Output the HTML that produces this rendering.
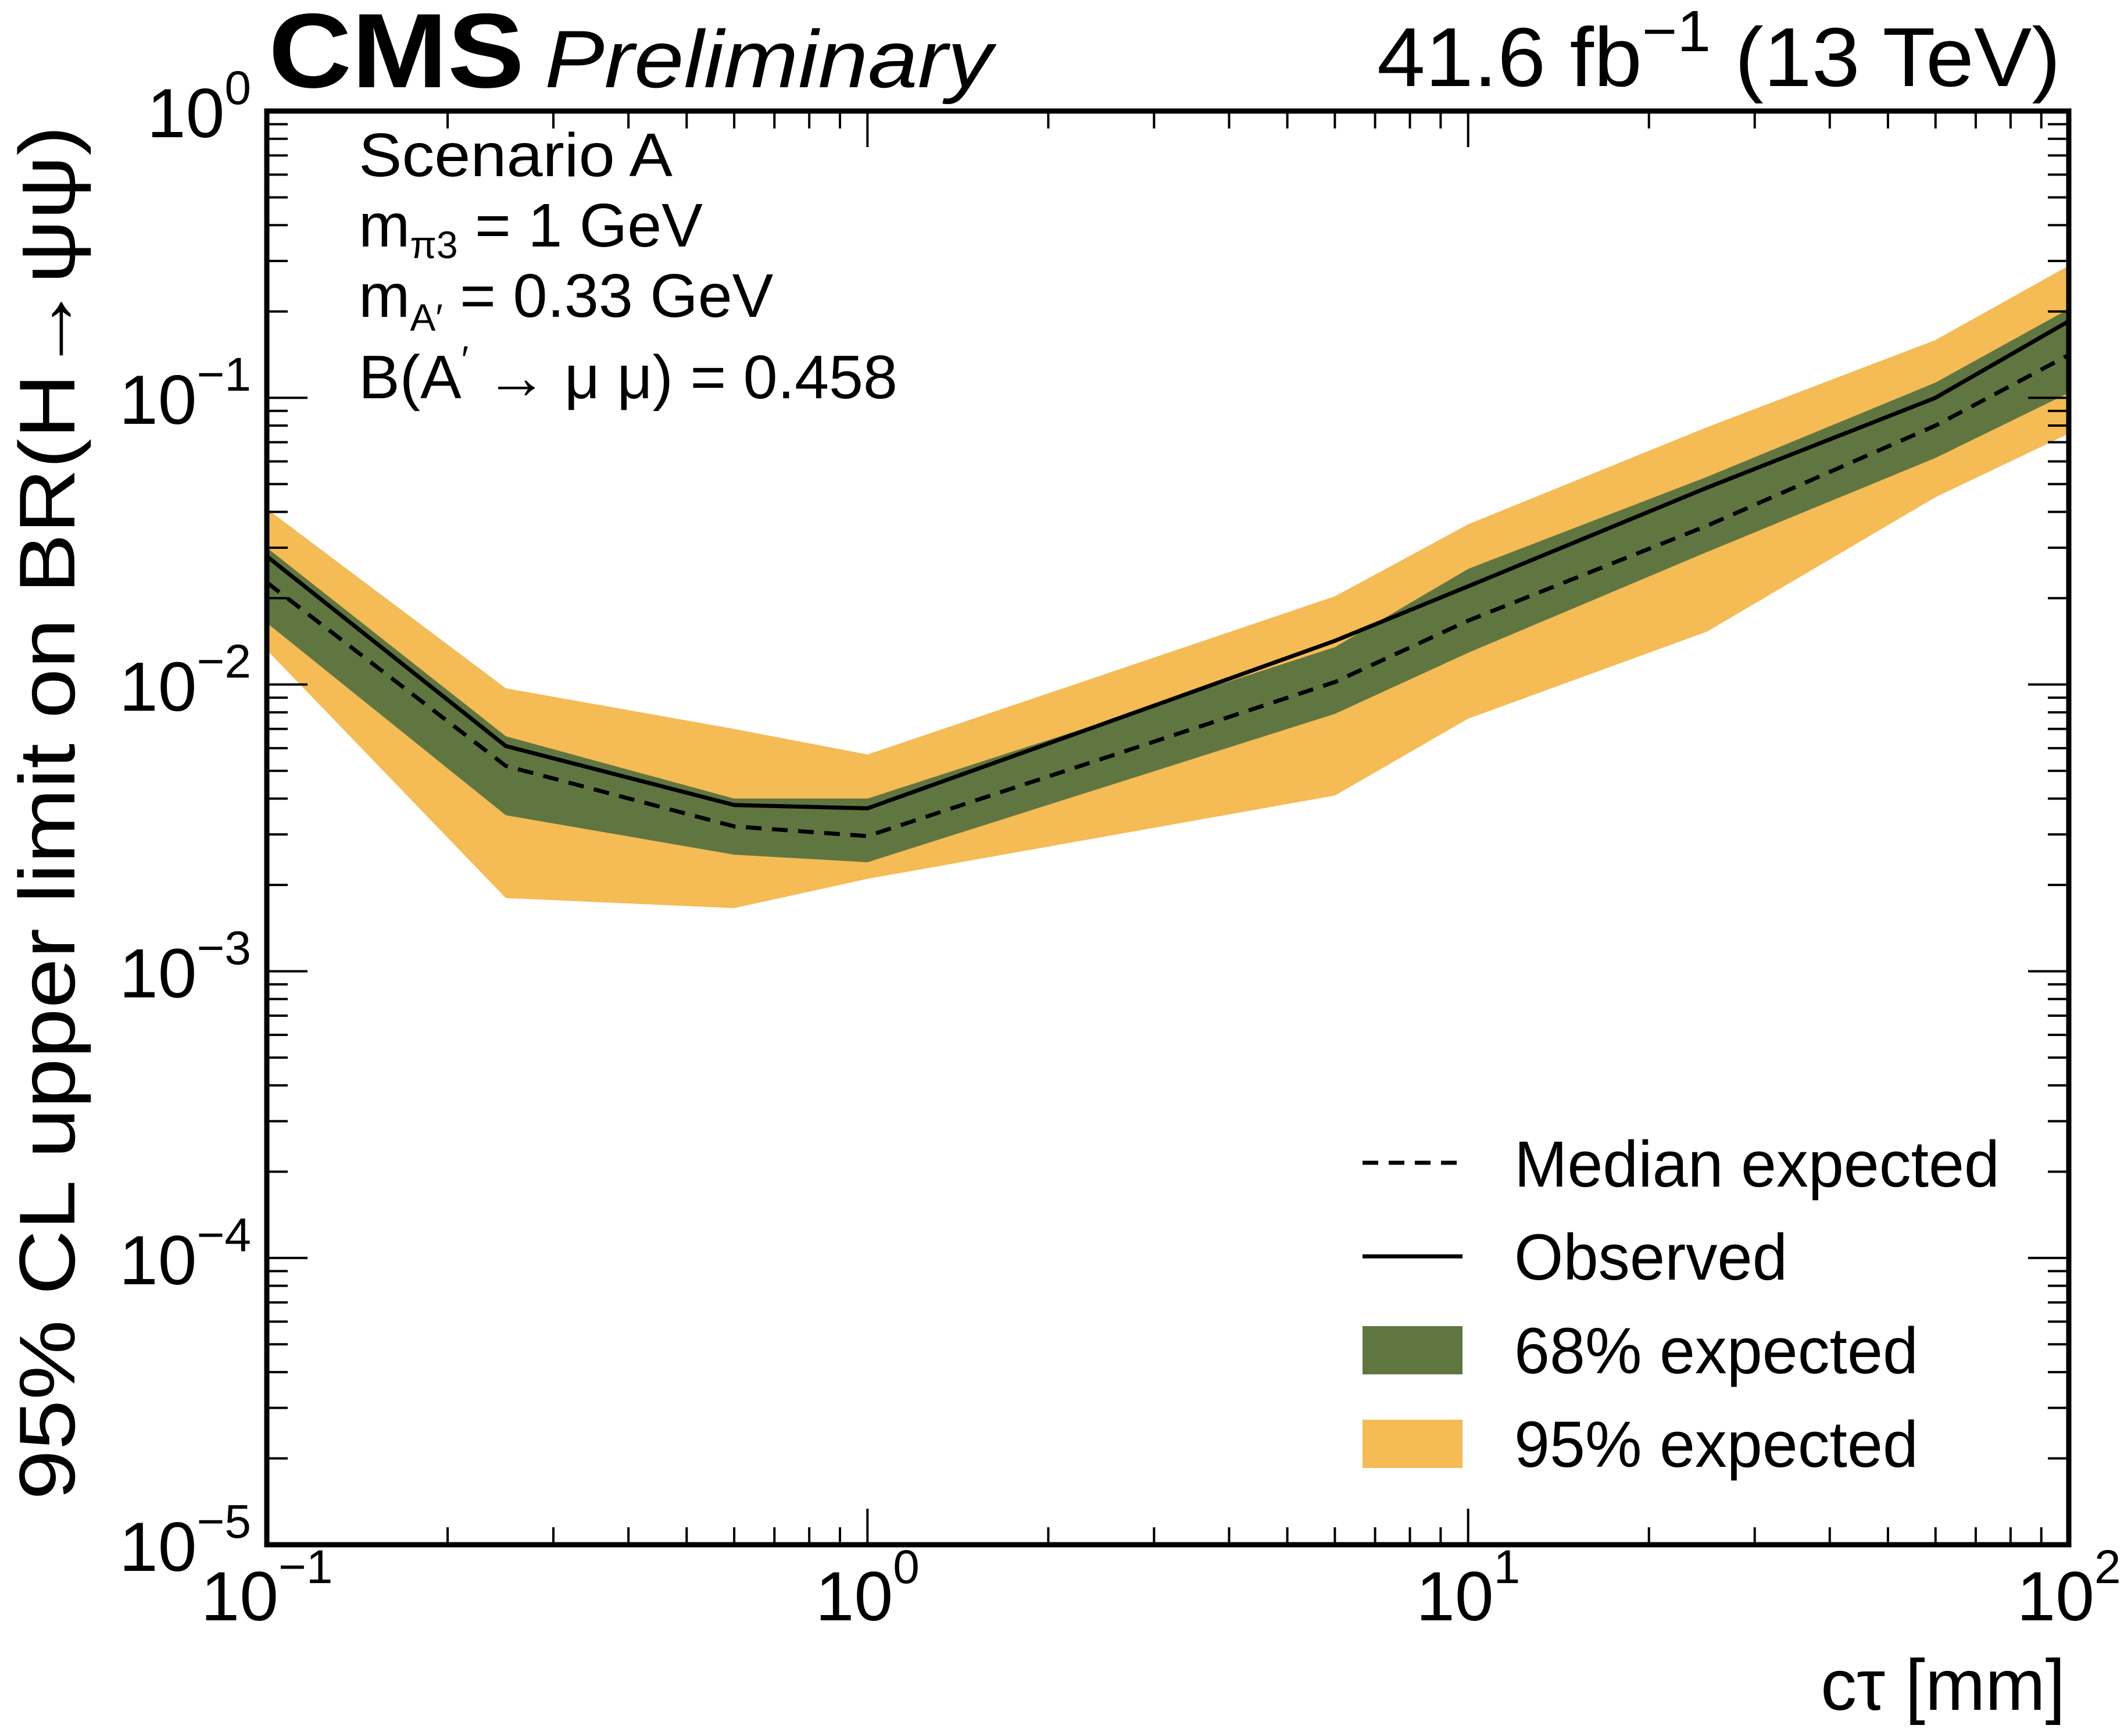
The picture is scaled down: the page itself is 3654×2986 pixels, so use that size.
<!DOCTYPE html>
<html><head><meta charset="utf-8">
<style>
html,body{margin:0;padding:0;background:#fff;}
svg{display:block;font-family:"Liberation Sans",Arial,sans-serif;}
</style></head>
<body>
<svg id="chart" width="3654" height="2986" viewBox="0 0 3654 2986" xmlns="http://www.w3.org/2000/svg">
<rect x="0" y="0" width="3654" height="2986" fill="#fff"/>
<g id="bands"></g>
<g id="lines"></g>
<g id="ticks"></g>
<rect x="459" y="191" width="3100" height="2466" fill="none" stroke="#000" stroke-width="9"/>
<g id="labels" font-size="120"></g>

<text x="462" y="150" font-size="182" font-weight="bold" textLength="440" lengthAdjust="spacingAndGlyphs">CMS</text>
<text x="937" y="150" font-size="140" font-style="italic" textLength="770" lengthAdjust="spacingAndGlyphs">Preliminary</text>
<text x="2369" y="148" font-size="144" textLength="1176" lengthAdjust="spacingAndGlyphs">41.6 fb<tspan dy="-60" font-size="100">−1</tspan><tspan dy="60"> (13 TeV)</tspan></text>

<g font-size="106">
<text x="617" y="303" textLength="540" lengthAdjust="spacingAndGlyphs">Scenario A</text>
<text x="617" y="424">m<tspan font-size="66" dy="20">π3</tspan><tspan dy="-20"> = 1 GeV</tspan></text>
<text x="617" y="545">m<tspan font-size="66" dy="24">A′</tspan><tspan dy="-24"> = 0.33 GeV</tspan></text>
<text x="617" y="685">B(A<tspan font-size="66" dy="-44">′</tspan><tspan dy="44"> → μ μ) = 0.458</tspan></text>
</g>

<g>
<line x1="2344" y1="2000" x2="2516" y2="2000" stroke="#000" stroke-width="7" stroke-dasharray="27,18"/>
<line x1="2344" y1="2161" x2="2516" y2="2161" stroke="#000" stroke-width="7"/>
<rect x="2344" y="2281" width="172" height="83" fill="#607641"/>
<rect x="2344" y="2442" width="172" height="83" fill="#F5BB54"/>
<g font-size="112">
<text x="2605" y="2041" textLength="835" lengthAdjust="spacingAndGlyphs">Median expected</text>
<text x="2605" y="2201" textLength="470" lengthAdjust="spacingAndGlyphs">Observed</text>
<text x="2605" y="2362" textLength="695" lengthAdjust="spacingAndGlyphs">68% expected</text>
<text x="2605" y="2523" textLength="695" lengthAdjust="spacingAndGlyphs">95% expected</text>
</g>
</g>

<text x="3553" y="2941" font-size="124" text-anchor="end">cτ [mm]</text>
<text transform="translate(128,1398) rotate(-90)" font-size="136" text-anchor="middle" textLength="2364" lengthAdjust="spacingAndGlyphs">95% CL upper limit on BR(H→ψψ)</text>

<script>
const ctau = [0.1, 0.25, 0.6, 1, 6, 10, 25, 60, 100];
const observed = [0.028, 0.0061, 0.0038, 0.0037, 0.0142, 0.022, 0.0486, 0.10, 0.185];
const median = [0.0227, 0.0052, 0.0032, 0.00296, 0.0102, 0.0167, 0.0358, 0.080, 0.141];
const up68 = [0.030, 0.0066, 0.0040, 0.0040, 0.0135, 0.0253, 0.053, 0.113, 0.204];
const lo68 = [0.0164, 0.0035, 0.00255, 0.0024, 0.0079, 0.0129, 0.029, 0.0617, 0.104];
const up95 = [0.041, 0.0097, 0.0070, 0.0057, 0.0203, 0.0362, 0.079, 0.159, 0.289];
const lo95 = [0.0132, 0.0018, 0.00166, 0.0021, 0.0041, 0.0076, 0.0153, 0.045, 0.075];
const xExps = [-1, 0, 1, 2];
const yExps = [0, -1, -2, -3, -4, -5];

const NS = 'http://www.w3.org/2000/svg';
const X0 = 459, X1 = 3559, Y0 = 191, Y1 = 2657;
const dash = '27,18';
function sx(v){ return X0 + (Math.log10(v) + 1) / 3 * (X1 - X0); }
function sy(v){ return Y0 + (0 - Math.log10(v)) / 5 * (Y1 - Y0); }
function addMark(tag, parentId){ const e = document.createElementNS(NS, tag); document.getElementById(parentId).appendChild(e); return e; }

function band(lo, hi, color, name){
  let pts = [];
  for (let i = 0; i < ctau.length; i++) pts.push(sx(ctau[i]) + ',' + sy(hi[i]));
  for (let i = ctau.length - 1; i >= 0; i--) pts.push(sx(ctau[i]) + ',' + sy(lo[i]));
  const p = addMark('polygon', 'bands');
  p.setAttribute('points', pts.join(' '));
  p.setAttribute('fill', color);
  
  
}
band(lo95, up95, '#F5BB54', 'band-95');
band(lo68, up68, '#607641', 'band-68');

function markLine(vals, dashPattern, name){
  const p = addMark('polyline', 'lines');
  p.setAttribute('points', ctau.map((c, i) => sx(c) + ',' + sy(vals[i])).join(' '));
  p.setAttribute('fill', 'none');
  p.setAttribute('stroke', '#000');
  p.setAttribute('stroke-width', '7');
  if (dashPattern) p.setAttribute('stroke-dasharray', dashPattern);
  
  
}
markLine(median, dash, 'median-expected-line');
markLine(observed, null, 'observed-line');

function tick(x1, y1, x2, y2){
  const l = addMark('line', 'ticks');
  l.setAttribute('x1', x1); l.setAttribute('y1', y1);
  l.setAttribute('x2', x2); l.setAttribute('y2', y2);
  l.setAttribute('stroke', '#000'); l.setAttribute('stroke-width', '4');
  
  
}
for (let e = -1; e < 2; e++) {
  for (let m = 1; m < 10; m++) {
    const x = sx(m * Math.pow(10, e));
    const len = m === 1 ? 62 : 30;
    tick(x, Y1, x, Y1 - len);
    tick(x, Y0, x, Y0 + len);
  }
}
for (let e = -5; e < 0; e++) {
  for (let m = 1; m < 10; m++) {
    const y = sy(m * Math.pow(10, e));
    const len = m === 1 ? 70 : 36;
    tick(X0, y, X0 + len, y);
    tick(X1, y, X1 - len, y);
  }
}
function powLabel(t, e, dy){
  t.appendChild(document.createTextNode('10'));
  const s = document.createElementNS(NS, 'tspan');
  s.setAttribute('font-size', '82');
  s.setAttribute('dy', dy);
  s.textContent = e < 0 ? '−' + (-e) : String(e);
  t.appendChild(s);
}
xExps.forEach(e => {
  const t = addMark('text', 'labels');
  t.setAttribute('x', sx(Math.pow(10, e)));
  t.setAttribute('y', 2787);
  t.setAttribute('text-anchor', 'middle');
  
  
  powLabel(t, e, -64);
});
yExps.forEach(e => {
  const t = addMark('text', 'labels');
  t.setAttribute('x', 432);
  t.setAttribute('y', sy(Math.pow(10, e)) + 45);
  t.setAttribute('text-anchor', 'end');
  
  
  powLabel(t, e, -57);
});
</script>
</svg>
</body></html>
